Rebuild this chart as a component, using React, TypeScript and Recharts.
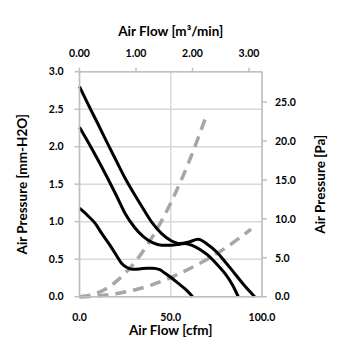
import React from 'react';
import { LineChart, Line, XAxis, YAxis, CartesianGrid } from 'recharts';

// fan curves, air flow [cfm] vs static pressure [mm-H2O]
const highFlow = [0, 5, 10, 15, 20, 25, 30, 35, 40, 45, 50, 55, 60, 65, 70, 75, 80, 85, 90, 96];
const highPressure = [2.8, 2.55, 2.31, 2.06, 1.82, 1.58, 1.37, 1.17, 0.98, 0.84, 0.75, 0.71, 0.73, 0.765, 0.7, 0.6, 0.46, 0.31, 0.16, 0];

const midFlow = [0, 5, 10, 15, 20, 25, 30, 35, 40, 45, 50, 55, 58, 62, 66, 70, 75, 80, 84, 87];
const midPressure = [2.26, 2.05, 1.83, 1.6, 1.36, 1.11, 0.93, 0.8, 0.72, 0.685, 0.685, 0.7, 0.71, 0.68, 0.63, 0.56, 0.44, 0.3, 0.15, 0];

const lowFlow = [0, 5, 8.5, 12, 16, 20, 23, 26, 29, 33, 37, 40, 44, 47, 51, 54, 58, 62];
const lowPressure = [1.18, 1.07, 0.98, 0.85, 0.71, 0.56, 0.445, 0.39, 0.365, 0.37, 0.38, 0.38, 0.36, 0.31, 0.24, 0.18, 0.1, 0];

// system impedance curves (dashed)
const steepFlow = [0, 10, 20, 30, 40, 50, 60, 69];
const steepPressure = [0, 0.05, 0.2, 0.45, 0.8, 1.25, 1.8, 2.38];

const flatFlow = [0, 10, 20, 30, 40, 50, 60, 70, 80, 94];
const flatPressure = [0, 0.01, 0.04, 0.09, 0.16, 0.255, 0.37, 0.5, 0.65, 0.9];

const cfmTicks = [0, 50, 100];
const m3Ticks = [0, 1, 2, 3];
const mmTicks = [0, 0.5, 1, 1.5, 2, 2.5, 3];
const paTicks = [0, 5, 10, 15, 20, 25];

const toPoints = (xs: number[], ys: (number | null)[]) => xs.map((x, i) => ({ x, y: ys[i] }));

const font = 'Lato, "Open Sans", sans-serif';
const tickStyle = { fontSize: 10.5, fontWeight: 700, fill: '#000', fontFamily: font };
const titleStyle = { fontSize: 13.5, fontWeight: 700, fill: '#000', fontFamily: font, textAnchor: 'middle' as const };
const axisGray = { stroke: '#bfbfbf', strokeWidth: 1.5 };

export default function App() {
  return (
    <div style={{ position: 'absolute', left: 0, top: 0, width: 355, height: 355, background: '#fff' }}>
      <LineChart width={355} height={355} margin={{ top: 0, right: 0, bottom: 0, left: 0 }}>
        <CartesianGrid stroke="#d9d9d9" strokeWidth={1.5} />
        <XAxis
          type="number"
          dataKey="x"
          domain={[0, 100]}
          ticks={cfmTicks}
          tickFormatter={(v: number) => v.toFixed(1)}
          height={58.3}
          tickLine={false}
          tickSize={0}
          tickMargin={17}
          axisLine={axisGray}
          tick={tickStyle}
          label={{ value: 'Air Flow [cfm]', position: 'insideBottom', offset: 20, style: titleStyle }}
        />
        <XAxis
          xAxisId="top"
          orientation="top"
          type="number"
          dataKey="x"
          domain={[0, 3.23]}
          allowDataOverflow
          ticks={m3Ticks}
          tickFormatter={(v: number) => v.toFixed(2)}
          height={71.7}
          tickSize={4}
          tickMargin={10.5}
          tickLine={axisGray}
          axisLine={axisGray}
          tick={tickStyle}
          label={{ value: 'Air Flow [m³/min]', position: 'insideTop', offset: 26, style: titleStyle }}
        />
        <YAxis
          type="number"
          domain={[0, 3]}
          ticks={mmTicks}
          tickFormatter={(v: number) => v.toFixed(1)}
          width={79.5}
          tickSize={5}
          tickMargin={11}
          tickLine={axisGray}
          axisLine={axisGray}
          tick={tickStyle}
          label={{ value: 'Air Pressure [mm-H2O]', angle: -90, position: 'insideLeft', offset: 22, style: titleStyle }}
        />
        <YAxis
          yAxisId="right"
          orientation="right"
          type="number"
          domain={[0, 28.9]}
          allowDataOverflow
          ticks={paTicks}
          tickFormatter={(v: number) => v.toFixed(1)}
          width={93}
          tickSize={5}
          tickMargin={8}
          tickLine={axisGray}
          axisLine={axisGray}
          tick={tickStyle}
          label={{ value: 'Air Pressure [Pa]', angle: -90, position: 'insideRight', offset: 35, style: titleStyle }}
        />
        {/* invisible carrier so the m³/min axis gets its ticks */}
        <Line
          xAxisId="top"
          yAxisId="right"
          data={toPoints(m3Ticks, m3Ticks.map(() => null))}
          dataKey="y"
          stroke="none"
          dot={false}
          legendType="none"
          isAnimationActive={false}
        />
        <Line data={toPoints(steepFlow, steepPressure)} dataKey="y" type="monotone" stroke="#a6a6a6" strokeWidth={3.5} strokeDasharray="11 7" dot={false} isAnimationActive={false} />
        <Line data={toPoints(flatFlow, flatPressure)} dataKey="y" type="monotone" stroke="#a6a6a6" strokeWidth={3.5} strokeDasharray="11 7" dot={false} isAnimationActive={false} />
        <Line data={toPoints(highFlow, highPressure)} dataKey="y" type="monotone" stroke="#000" strokeWidth={3} dot={false} isAnimationActive={false} />
        <Line data={toPoints(midFlow, midPressure)} dataKey="y" type="monotone" stroke="#000" strokeWidth={3} dot={false} isAnimationActive={false} />
        <Line data={toPoints(lowFlow, lowPressure)} dataKey="y" type="monotone" stroke="#000" strokeWidth={3} dot={false} isAnimationActive={false} />
      </LineChart>
    </div>
  );
}
